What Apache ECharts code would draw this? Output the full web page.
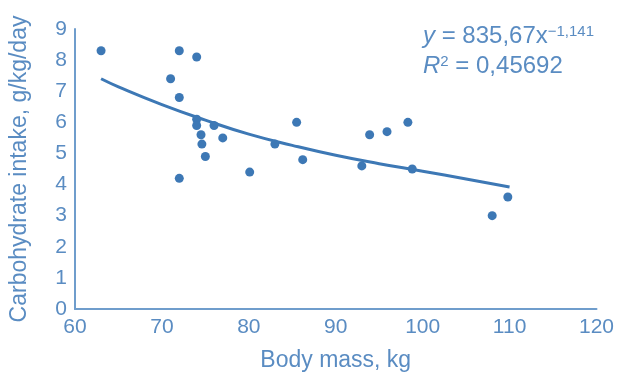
<!DOCTYPE html>
<html>
<head>
<meta charset="utf-8">
<script src="https://cdn.jsdelivr.net/npm/echarts@6/dist/echarts.min.js"></script>
<style>
  html, body { margin: 0; padding: 0; background: #fff; }
  #chart { width: 617px; height: 377px; }
</style>
</head>
<body>
<div id="chart"></div>
<script>
// body mass (kg) vs carbohydrate intake (g/kg/day)
const bodyMass = [63, 72, 74, 71, 72, 74, 74, 76, 74.5, 77, 74.6, 75, 72,
  80.1, 83, 85.5, 86.2, 93, 93.9, 95.9, 98.3, 98.8, 108, 109.8];
const carbIntake = [8.3, 8.3, 8.1, 7.4, 6.8, 6.1, 5.9, 5.9, 5.6, 5.5, 5.3, 4.9, 4.2,
  4.4, 5.3, 6.0, 4.8, 4.6, 5.6, 5.7, 6.0, 4.5, 3.0, 3.6];
// power trend line
const trendX = [63, 65, 70, 75, 80, 85, 90, 95, 100, 105, 110];
const trendY = [7.4, 7.14, 6.57, 6.07, 5.62, 5.26, 4.94, 4.67, 4.43, 4.18, 3.92];
const xTicks = [60, 120, 10];
const yTicks = [0, 9, 1];

const blue = "#3d78b5";
const textBlue = "#5a8cc2";
const font = "Liberation Sans, Arial, sans-serif";

const chart = echarts.init(document.getElementById("chart"));

const richEq = {
  i: { fontStyle: "italic", fontSize: 24, fill: textBlue, fontFamily: font },
  n: { fontSize: 24, fill: textBlue, fontFamily: font },
  s: { fontSize: 15, fill: textBlue, fontFamily: font, verticalAlign: "top", padding: [0, 0, 9, 0] },
};

const option = {
  animation: false,
  textStyle: { fontFamily: font },
  grid: { left: 74, right: 20, top: 29, bottom: 67 },
  xAxis: {
    type: "value",
    min: xTicks[0],
    max: xTicks[1],
    interval: xTicks[2],
    name: "Body mass, kg",
    nameLocation: "middle",
    nameGap: 40,
    nameTextStyle: { color: textBlue, fontSize: 23, fontFamily: font },
    axisLine: { lineStyle: { color: "#6f9dcc", width: 2 } },
    axisTick: { show: false },
    axisLabel: { color: textBlue, fontSize: 21, fontFamily: font, margin: 8 },
    splitLine: { show: false },
  },
  yAxis: {
    type: "value",
    min: yTicks[0],
    max: yTicks[1],
    interval: yTicks[2],
    name: "Carbohydrate intake, g/kg/day",
    nameLocation: "middle",
    nameGap: 44,
    nameTextStyle: { color: textBlue, fontSize: 23, fontFamily: font },
    axisLine: { show: true, lineStyle: { color: "#6f9dcc", width: 2 } },
    axisTick: { show: false },
    axisLabel: { color: textBlue, fontSize: 21, fontFamily: font, margin: 8 },
    splitLine: { show: false },
  },
  graphic: [
    {
      type: "text",
      left: 423,
      top: 24,
      style: { text: "{i|y}{n| = 835,67x}{s|−1,141}", rich: richEq },
    },
    {
      type: "text",
      left: 423,
      top: 54,
      style: { text: "{i|R}{s|2}{n| = 0,45692}", rich: richEq },
    },
  ],
  series: [
    {
      type: "line",
      data: trendX.map((x, i) => [x, trendY[i]]),
      smooth: true,
      showSymbol: false,
      lineStyle: { color: blue, width: 3 },
      z: 1,
    },
    {
      type: "scatter",
      data: bodyMass.map((x, i) => [x, carbIntake[i]]),
      symbolSize: 9,
      itemStyle: { color: blue, opacity: 1 },
      z: 2,
    },
  ],
};
chart.setOption(option);
</script>
</body>
</html>
